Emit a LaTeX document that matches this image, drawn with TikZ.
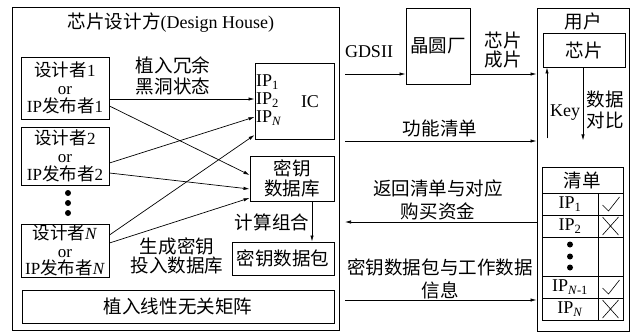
\documentclass[tikz,border=0pt]{standalone}
\usepackage{fontspec}
\setmainfont{Liberation Serif}
\newfontfamily\cjk[Scale=1.03]{Noto Sans CJK SC}
\usetikzlibrary{arrows.meta,calc}
\begin{document}
\begin{tikzpicture}[x=1pt,y=-1pt,
  every node/.append style={font=\fontsize{18}{19.5}\selectfont},
  box/.style={draw, line width=0.9pt, inner sep=0pt, align=center},
  dbox/.style={box, font=\fontsize{17}{17.7}\selectfont, minimum width=88pt},
  cell/.style={draw, line width=0.9pt, inner sep=0pt},
  lbl/.style={align=center, inner sep=0pt},
  arr/.style={line width=0.7pt, -{Latex[length=6pt,width=3.4pt]}},
  thin/.style={line width=0.6pt}]
\useasboundingbox (0,0) rectangle (631,333);
% Design house
\node[box, minimum width=327pt, minimum height=323pt] (design) at (175.5,168.5) {};
\node[lbl] (title) at (171,23) {{\cjk 芯片设计方}(Design House)};
\node[dbox, minimum height=62pt] (d1) at (65,88) {{\cjk 设计者}1\\or\\IP{\cjk 发布者}1};
\node[dbox, minimum height=58pt] (d2) at (65,156) {{\cjk 设计者}2\\or\\IP{\cjk 发布者}2};
\foreach \yy in {193,203,213} \fill (68,\yy) circle (3pt);
\node[dbox, minimum height=53pt] (dn) at (65,250.5) {{\cjk 设计者}\textit{N}\\or\\IP{\cjk 发布者}\textit{N}};
\node[box, minimum width=79pt, minimum height=76pt] (ic) at (294.5,101) {};
\node[lbl, anchor=west, align=left, font=\fontsize{18}{18}\selectfont] (iplist) at (256,100) {IP\textsubscript{1}\\IP\textsubscript{2}\\IP\textsubscript{\textit{N}}};
\node[lbl] (ictext) at (310,102) {IC};
\node[box, minimum width=84pt, minimum height=45pt] (kdb) at (292,178.5) {{\cjk 密钥}\\{\cjk 数据库}};
\node[lbl] (calcl) at (272,222) {{\cjk 计算组合}};
\node[box, minimum width=102pt, minimum height=33pt] (kp) at (283,258.5) {{\cjk 密钥数据包}};
\node[box, minimum width=312pt, minimum height=33pt] (mat) at (178,306.5) {{\cjk 植入线性无关矩阵}};
\node[lbl] (implant) at (173,76) {{\cjk 植入冗余}\\[2pt]{\cjk 黑洞状态}};
\node[lbl] (gen) at (177,256) {{\cjk 生成密钥}\\{\cjk 投入数据库}};
% Fab and user
\node[box, minimum width=64pt, minimum height=76pt] (fab) at (438,46) {{\cjk 晶圆厂}};
\node[lbl] (gds) at (369,52) {GDSII};
\node[lbl] (chipout) at (503,50) {{\cjk 芯片}\\{\cjk 成片}};
\node[box, minimum width=92pt, minimum height=323pt] (user) at (583,169.5) {};
\node[lbl] (usert) at (583,21) {{\cjk 用户}};
\node[box, minimum width=82pt, minimum height=34pt] (chip) at (584,50) {{\cjk 芯片}};
\node[lbl] (key) at (565,113) {Key};
\node[lbl] (cmp) at (605,110) {{\cjk 数据}\\[2pt]{\cjk 对比}};
\node[lbl] (func) at (440,128) {{\cjk 功能清单}};
\node[lbl] (ret) at (438,200) {{\cjk 返回清单与对应}\\[4pt]{\cjk 购买资金}};
\node[lbl] (kpinfo) at (440,279) {{\cjk 密钥数据包与工作数据}\\[4pt]{\cjk 信息}};
% table
\node[cell, minimum width=81pt, minimum height=26pt] (hdr) at (582.5,180) {{\cjk 清单}};
\node[cell, minimum width=56pt, minimum height=22pt] (r1l) at (570,204) {IP\textsubscript{1}};
\node[cell, minimum width=25pt, minimum height=22pt] (r1r) at (610.5,204) {};
\node[cell, minimum width=56pt, minimum height=22pt] (r2l) at (570,226) {IP\textsubscript{2}};
\node[cell, minimum width=25pt, minimum height=22pt] (r2r) at (610.5,226) {};
\node[cell, minimum width=56pt, minimum height=39pt] (r3l) at (570,256.5) {};
\node[cell, minimum width=25pt, minimum height=39pt] (r3r) at (610.5,256.5) {};
\node[cell, minimum width=56pt, minimum height=22pt] (r4l) at (570,287) {IP\textsubscript{\textit{N}-1}};
\node[cell, minimum width=25pt, minimum height=22pt] (r4r) at (610.5,287) {};
\node[cell, minimum width=56pt, minimum height=22pt] (r5l) at (570,309) {IP\textsubscript{\textit{N}}};
\node[cell, minimum width=25pt, minimum height=22pt] (r5r) at (610.5,309) {};
\foreach \dy in {-12,0,11} \fill ([shift={(0,\dy)}]r3l.center) circle (3pt);
\draw[thin] ([shift={(-8,1)}]r1r.center) -- ([shift={(-2,7)}]r1r.center) -- ([shift={(9,-7)}]r1r.center);
\draw[thin] ([shift={(-8,1)}]r4r.center) -- ([shift={(-2,7)}]r4r.center) -- ([shift={(9,-7)}]r4r.center);
\draw[thin] ([shift={(-8,-9)}]r2r.center) -- ([shift={(8,9)}]r2r.center)
            ([shift={(-8,9)}]r2r.center) -- ([shift={(8,-9)}]r2r.center);
\draw[thin] ([shift={(-8,-9)}]r5r.center) -- ([shift={(8,9)}]r5r.center)
            ([shift={(-8,9)}]r5r.center) -- ([shift={(8,-9)}]r5r.center);
% arrows in design house
\draw[arr] ([yshift=-11pt]d1.east) -- ([yshift=2pt]ic.west);
\draw[arr] ([yshift=-18pt]d1.east) -- ([yshift=3.5pt]kdb.west);
\draw[arr] ([yshift=-7pt]d2.east) -- ([yshift=-16pt]ic.west);
\draw[arr] ([yshift=-17pt]d2.east) -- ([yshift=-10.5pt]kdb.west);
\draw[arr] ([yshift=15.5pt]dn.east) -- ([yshift=-34pt]ic.west);
\draw[arr] ([yshift=7.5pt]dn.east) -- ([yshift=-19.5pt]kdb.west);
\draw[arr] ([xshift=20pt]kdb.south) -- ([xshift=20pt]kdb.south |- kp.north);
% arrows between parties
\coordinate (g0) at (345,74);
\draw[arr] (g0) -- (g0 -| fab.west);
\draw[arr] ([yshift=-28pt]fab.east) -- ([yshift=-28pt]fab.east -| user.west);
\coordinate (f0) at (345,141);
\draw[arr] (f0) -- (f0 -| user.west);
\coordinate (r0) at (345,222);
\draw[arr] (r0 -| user.west) -- (r0);
\coordinate (k0) at (345,300);
\draw[arr] (k0) -- (k0 -| user.west);
\draw[arr] ([xshift=-37pt,yshift=-71pt]chip.south) -- ([xshift=-37pt]chip.south);
\draw[arr] ([xshift=-1pt]chip.south) -- ([xshift=-1pt,yshift=-73pt]chip.south);
\end{tikzpicture}
\end{document}
